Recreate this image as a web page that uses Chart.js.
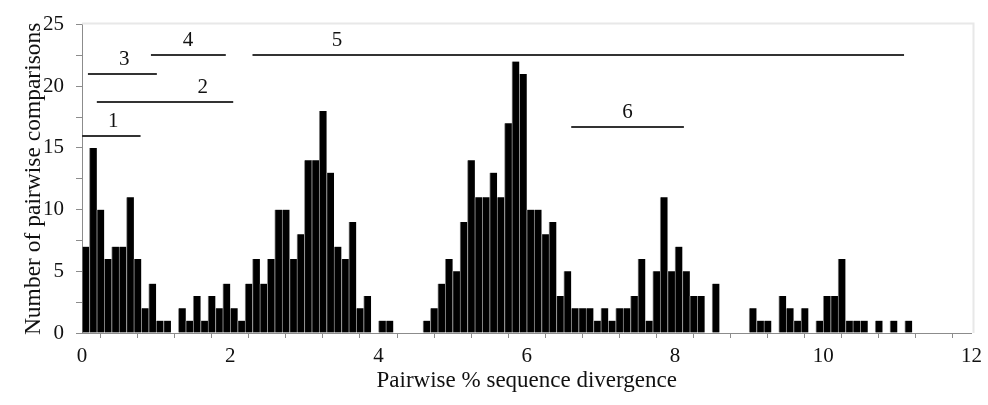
<!DOCTYPE html>
<html>
<head>
<meta charset="utf-8">
<script src="https://cdn.jsdelivr.net/npm/chart.js@4/dist/chart.umd.min.js"></script>
<style>
  html, body { margin: 0; padding: 0; background: #fff; }
  #wrap { width: 988px; height: 405px; position: relative; }
</style>
</head>
<body>
<div id="wrap"><canvas id="divergence-chart"></canvas></div>
<script>
// ---------------------------- Histogram data ------------------------------------------ //
// bins are 0.1 % wide, starting at 0
const bin_width = 0.1;
const bin_counts = [
    7, 15, 10, 6, 7, 7, 11, 6, 2, 4,        // 0.0 - 0.9
    1, 1, 0, 2, 1, 3, 1, 3, 2, 4,           // 1.0 - 1.9
    2, 1, 4, 6, 4, 6, 10, 10, 6, 8,         // 2.0 - 2.9
    14, 14, 18, 13, 7, 6, 9, 2, 3, 0,       // 3.0 - 3.9
    1, 1, 0, 0, 0, 0, 1, 2, 4, 6,           // 4.0 - 4.9
    5, 9, 14, 11, 11, 13, 11, 17, 22, 21,   // 5.0 - 5.9
    10, 10, 8, 9, 3, 5, 2, 2, 2, 1,         // 6.0 - 6.9
    2, 1, 2, 2, 3, 6, 1, 5, 11, 5,          // 7.0 - 7.9
    7, 5, 3, 3, 0, 4, 0, 0, 0, 0,           // 8.0 - 8.9
    2, 1, 1, 0, 3, 2, 1, 2, 0, 1,           // 9.0 - 9.9
    3, 3, 6, 1, 1, 1, 0, 1, 0, 1,           // 10.0 - 10.9
    0, 1, 0, 0, 0, 0, 0, 0, 0, 0            // 11.0 - 11.9
];

// axis ranges and labelled ticks
const x_max = 12;
const y_max = 25;
const x_labelled_every = 2;
const y_labelled_every = 5;

// numbered groups drawn as horizontal bars over the histogram
const group_names = [ "1", "2", "3", "4", "5", "6" ];
const group_from  = [ 0, 0.2, 0.08, 0.93, 2.3, 6.6 ];
const group_to    = [ 0.79, 2.04, 1.01, 1.94, 11.09, 8.12 ];
const group_level = [ 16, 18.7, 21, 22.5, 22.5, 16.7 ];
const group_label_at = [ 0.42, 1.63, 0.57, 1.43, 3.44, 7.36 ];

const hist_points = bin_counts.map( ( c, i ) => ( { x: ( i + 0.5 ) * bin_width, y: c } ) );

// ---------------------------- Plugins ------------------------------------------ //
const group_lines = {
    id: 'groupLines',
    afterDatasetsDraw( chart ) {
        const { ctx, scales: { x, y } } = chart;
        ctx.save();
        ctx.strokeStyle = '#333';
        ctx.lineWidth = 2;
        ctx.fillStyle = '#111';
        ctx.font = "21px 'Liberation Serif', serif";
        ctx.textAlign = 'center';
        ctx.textBaseline = 'middle';
        group_names.forEach( ( name, i ) => {
            const py = Math.round( y.getPixelForValue( group_level[ i ] ) );
            ctx.beginPath();
            ctx.moveTo( x.getPixelForValue( group_from[ i ] ), py );
            ctx.lineTo( x.getPixelForValue( group_to[ i ] ), py );
            ctx.stroke();
            ctx.fillText( name, x.getPixelForValue( group_label_at[ i ] ), py - 15 );
        } );
        ctx.restore();
    }
};

// faint frame along the top and right of the plot
const plot_frame = {
    id: 'plotFrame',
    beforeDatasetsDraw( chart ) {
        const { ctx, chartArea: a } = chart;
        ctx.save();
        ctx.strokeStyle = '#e8e8e8';
        ctx.lineWidth = 2;
        ctx.beginPath();
        ctx.moveTo( a.left, a.top - 1 );
        ctx.lineTo( a.right + 2, a.top - 1 );
        ctx.lineTo( a.right + 2, a.bottom );
        ctx.stroke();
        ctx.restore();
    }
};

// ---------------------------- Chart ------------------------------------------ //
Chart.defaults.font.family = "'Liberation Serif', serif";
Chart.defaults.color = '#111';

const divergence_chart = new Chart( document.getElementById( 'divergence-chart' ),
{
    type: 'bar',
    data: {
        datasets: [
        {
            data: hist_points,
            backgroundColor: '#000',
            borderColor: '#8c8c8c',
            borderWidth: { left: 1, top: 0, right: 0, bottom: 0 },
            barPercentage: 1,
            categoryPercentage: 1
        } ]
    },
    options: {
        responsive: true,
        maintainAspectRatio: false,
        animation: false,
        layout: {
            padding: { top: 15, right: 13, left: 0, bottom: 0 }
        },
        plugins: {
            legend: { display: false },
            tooltip: { enabled: false }
        },
        scales: {
            x: {
                type: 'linear',
                offset: false,
                min: 0,
                max: x_max,
                afterFit( scale ) { scale.height = 72; },
                border: { color: '#8c8c8c', width: 1 },
                grid: { drawOnChartArea: false, color: '#8c8c8c', tickLength: 5 },
                ticks: {
                    stepSize: 0.5,
                    autoSkip: false,
                    maxRotation: 0,
                    padding: 6,
                    font: { size: 21 },
                    callback: v => ( v % x_labelled_every === 0 ? v : '' )
                },
                title: {
                    display: true,
                    text: 'Pairwise % sequence divergence',
                    font: { size: 23 },
                    padding: { top: 0, bottom: 10 }
                }
            },
            y: {
                min: 0,
                max: y_max,
                afterFit( scale ) { scale.width = 82; },
                border: { color: '#8c8c8c', width: 1 },
                grid: { drawOnChartArea: false, color: '#8c8c8c', tickLength: 6 },
                ticks: {
                    stepSize: 2.5,
                    autoSkip: false,
                    padding: 12,
                    font: { size: 21 },
                    callback: v => ( v % y_labelled_every === 0 ? v : '' )
                },
                title: {
                    display: true,
                    text: 'Number of pairwise comparisons',
                    font: { size: 23.5 },
                    padding: { top: 20, bottom: 0 }
                }
            }
        }
    },
    plugins: [ group_lines, plot_frame ]
} );
</script>
</body>
</html>
